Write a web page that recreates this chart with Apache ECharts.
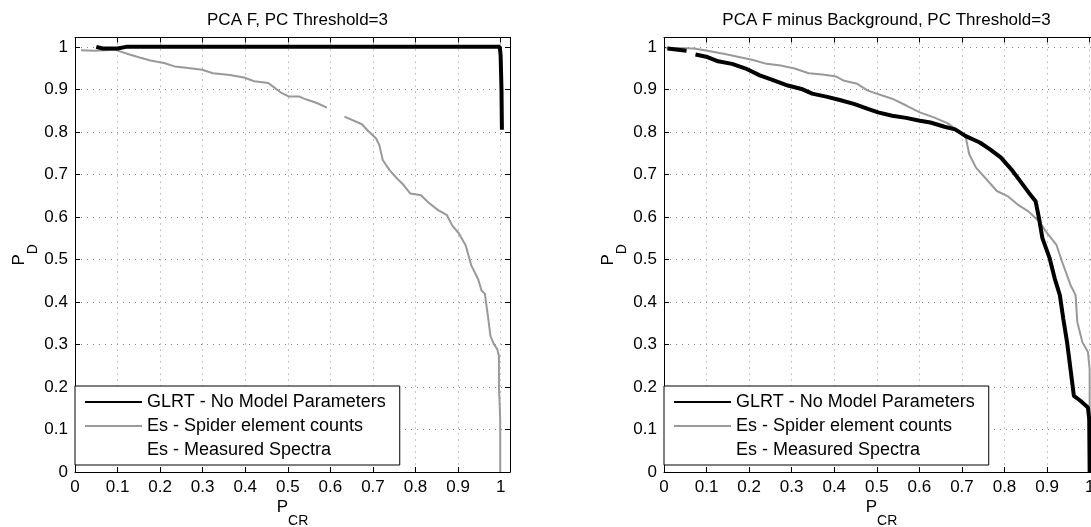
<!DOCTYPE html>
<html>
<head>
<meta charset="utf-8">
<script src="https://cdn.jsdelivr.net/npm/echarts@6/dist/echarts.min.js"></script>
<style>
html,body{margin:0;padding:0;background:#fff;}
#chart{width:1091px;height:527px;}
</style>
</head>
<body>
<div id="chart"></div>
<script>
// ---------- data ----------
const titles = ['PCA F, PC Threshold=3', 'PCA F minus Background, PC Threshold=3'];
const seriesNames = ['GLRT - No Model Parameters', 'Es - Spider element counts', 'Es - Measured Spectra'];
const axisMin = 0;
const axisMax = 1.022;
const tickStep = 0.1;

// Left panel: GLRT
const leftGlrtX = [0.05, 0.065, 0.10, 0.12, 0.998, 1.000, 1.002, 1.003];
const leftGlrtY = [1.00, 0.996, 0.996, 1.00, 1.000, 0.980, 0.900, 0.805];
// Left panel: Es - Spider element counts
const leftSpiderX = [0.014, 0.046, 0.095, 0.128, 0.152, 0.177, 0.209, 0.234, 0.266, 0.299, 0.324, 0.364, 0.397, 0.421, 0.454, 0.470, 0.486, 0.503, 0.527, 0.544, 0.568, 0.592, 0.61,
  0.633, 0.674, 0.690, 0.707, 0.715, 0.723, 0.739, 0.756, 0.772, 0.788, 0.813, 0.829, 0.853, 0.874, 0.886, 0.902, 0.918, 0.931, 0.947, 0.955, 0.963, 0.971, 0.976, 0.984, 0.992, 0.996, 0.996, 0.999, 0.999];
const leftSpiderY = [0.992, 0.991, 0.993, 0.982, 0.975, 0.968, 0.962, 0.954, 0.950, 0.946, 0.938, 0.934, 0.928, 0.919, 0.915, 0.903, 0.891, 0.883, 0.883, 0.876, 0.868, 0.857, null,
  0.836, 0.818, 0.801, 0.785, 0.769, 0.734, 0.710, 0.691, 0.675, 0.655, 0.651, 0.635, 0.616, 0.604, 0.580, 0.561, 0.533, 0.486, 0.454, 0.427, 0.419, 0.360, 0.320, 0.301, 0.289, 0.273, 0.202, 0.124, 0.000];
const leftMeasuredX = [];
const leftMeasuredY = [];

// Right panel: GLRT
const rightGlrtX = [0.008, 0.053, 0.06, 0.074, 0.102, 0.127, 0.160, 0.192, 0.225, 0.258, 0.291, 0.323, 0.348, 0.381, 0.413, 0.446, 0.479, 0.503, 0.536, 0.569, 0.601, 0.626, 0.659, 0.684, 0.709, 0.742, 0.766, 0.791, 0.816, 0.840, 0.857, 0.873, 0.881, 0.889, 0.906, 0.918, 0.930, 0.938, 0.947, 0.955, 0.963, 0.979, 0.996, 0.999, 1.000];
const rightGlrtY = [0.996, 0.991, null, 0.982, 0.976, 0.966, 0.960, 0.949, 0.933, 0.921, 0.909, 0.901, 0.890, 0.883, 0.875, 0.866, 0.854, 0.846, 0.838, 0.833, 0.826, 0.822, 0.812, 0.806, 0.790, 0.775, 0.759, 0.740, 0.712, 0.680, 0.657, 0.637, 0.597, 0.550, 0.503, 0.455, 0.416, 0.361, 0.305, 0.242, 0.179, 0.167, 0.152, 0.124, 0.000];
// Right panel: Es - Spider element counts
const rightSpiderX = [0.004, 0.07, 0.102, 0.143, 0.176, 0.209, 0.241, 0.274, 0.307, 0.340, 0.372, 0.405, 0.421, 0.454, 0.479, 0.511, 0.536, 0.569, 0.601, 0.634, 0.667, 0.691, 0.709, 0.717, 0.733, 0.758, 0.782, 0.807, 0.831, 0.856, 0.881, 0.897, 0.922, 0.938, 0.955, 0.967, 0.971, 0.983, 0.996, 1.000, 1.000];
const rightSpiderY = [0.998, 0.996, 0.991, 0.983, 0.976, 0.969, 0.960, 0.956, 0.949, 0.938, 0.935, 0.930, 0.921, 0.913, 0.897, 0.886, 0.878, 0.862, 0.846, 0.834, 0.820, 0.802, 0.787, 0.748, 0.716, 0.688, 0.661, 0.649, 0.629, 0.613, 0.590, 0.566, 0.534, 0.487, 0.440, 0.416, 0.353, 0.305, 0.282, 0.242, 0.000];
const rightMeasuredX = [];
const rightMeasuredY = [];

// ---------- helpers ----------
function zip(xs, ys) { return xs.map((x, i) => ys[i] === null ? [x, '-'] : [x, ys[i]]); }
const FONT = "'Liberation Sans', Arial, sans-serif";
const grids = [
  { left: 75, top: 37.5, width: 435, height: 434.5, outerBoundsMode: 'none', containLabel: false },
  { left: 664, top: 37.5, width: 435, height: 434.5, outerBoundsMode: 'none', containLabel: false }
];
const titleCenters = [292.5, 881.5];

function tickFmt(v) {
  const r = Math.round(v * 10);
  if (Math.abs(v * 10 - r) > 1e-6) return '';
  return String(r / 10);
}
const nameRich = {
  a: { fontSize: 17, lineHeight: 20, verticalAlign: 'top', color: '#000', fontFamily: FONT },
  b: { fontSize: 14, lineHeight: 16, verticalAlign: 'top', padding: [15, 0, 0, 0], color: '#000', fontFamily: FONT }
};

const xAxes = [], yAxes = [];
grids.forEach((g, gi) => {
  const common = {
    type: 'value', gridIndex: gi, min: axisMin, max: axisMax, interval: tickStep,
    axisLine: { show: true, onZero: false, lineStyle: { color: '#000', width: 1 } },
    axisTick: { show: true, inside: true, length: 5, lineStyle: { color: '#000' } }
  };
  xAxes.push(Object.assign({}, common, {
    position: 'bottom',
    name: '{a|P}{b|CR}', nameLocation: 'middle', nameGap: 27, nameMoveOverlap: false,
    nameTextStyle: { rich: nameRich },
    axisLabel: { show: true, margin: 7, fontSize: 17, color: '#000', fontFamily: FONT, formatter: tickFmt, showMaxLabel: false },
    splitLine: { show: true, lineStyle: { color: '#888', width: 1, type: [1, 5] } }
  }));
  xAxes.push(Object.assign({}, common, {
    position: 'top', axisLabel: { show: false }, splitLine: { show: false }
  }));
  yAxes.push(Object.assign({}, common, {
    position: 'left',
    name: '{a|P}{b|D}', nameLocation: 'middle', nameGap: 44, nameRotate: 90, nameMoveOverlap: false,
    nameTextStyle: { rich: nameRich },
    axisLabel: { show: true, margin: 7, fontSize: 17, color: '#000', fontFamily: FONT, formatter: tickFmt, showMaxLabel: false },
    splitLine: { show: true, lineStyle: { color: '#888', width: 1, type: [1, 5] } }
  }));
  yAxes.push(Object.assign({}, common, {
    position: 'right', axisLabel: { show: false }, splitLine: { show: false }
  }));
});

const panels = [
  [zip(leftGlrtX, leftGlrtY), zip(leftSpiderX, leftSpiderY), zip(leftMeasuredX, leftMeasuredY)],
  [zip(rightGlrtX, rightGlrtY), zip(rightSpiderX, rightSpiderY), zip(rightMeasuredX, rightMeasuredY)]
];
const styles = [
  { color: '#000', width: 4 },
  { color: '#999', width: 2 },
  { color: '#fff', width: 1 }
];
const series = [];
panels.forEach((sets, gi) => {
  sets.forEach((data, si) => {
    series.push({
      type: 'line', name: seriesNames[si], xAxisIndex: gi * 2, yAxisIndex: gi * 2,
      data: data, symbol: 'none', showSymbol: false, animation: false,
      connectNulls: false,
      lineStyle: { color: styles[si].color, width: styles[si].width },
      itemStyle: { color: styles[si].color },
      z: si === 0 ? 3 : 2
    });
  });
});

const legends = grids.map(g => ({
  left: g.left, top: 386, orient: 'vertical',
  data: seriesNames,
  backgroundColor: '#fff', borderColor: '#000', borderWidth: 1,
  padding: [7, 14, 6, 9], itemGap: 6, itemWidth: 57, itemHeight: 14,
  selectedMode: false,
  itemStyle: { opacity: 0, color: 'rgba(0,0,0,0)', borderColor: 'rgba(0,0,0,0)', borderWidth: 0 },
  textStyle: { fontSize: 18, lineHeight: 18, color: '#000', fontFamily: FONT }
}));

const chart = echarts.init(document.getElementById('chart'), null, { renderer: 'canvas' });
chart.setOption({
  backgroundColor: '#fff',
  animation: false,
  title: titles.map((t, i) => ({
    text: t, left: titleCenters[i], top: 7, textAlign: 'center',
    textStyle: { fontSize: 17, fontWeight: 'normal', color: '#000', fontFamily: FONT }
  })),
  grid: grids,
  xAxis: xAxes,
  yAxis: yAxes,
  legend: legends,
  series: series
});
</script>
</body>
</html>
